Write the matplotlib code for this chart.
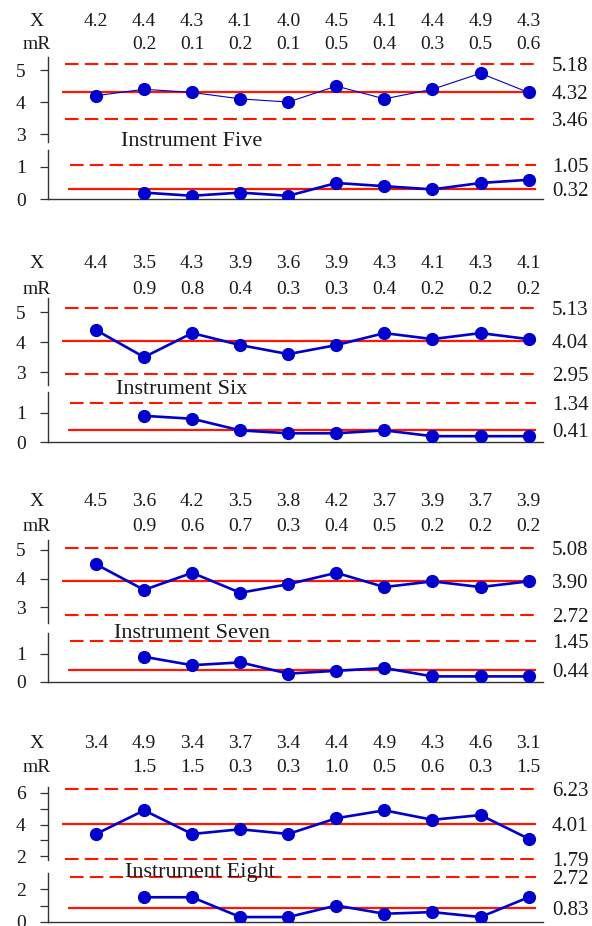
import matplotlib
matplotlib.use('Agg')
import matplotlib.pyplot as plt
from matplotlib.transforms import blended_transform_factory as blend

plt.rcParams['font.family'] = ['Liberation Serif', 'DejaVu Serif']

# data
names = ['Instrument Five', 'Instrument Six', 'Instrument Seven', 'Instrument Eight']
x_vals = [
    [4.2, 4.4, 4.3, 4.1, 4.0, 4.5, 4.1, 4.4, 4.9, 4.3],
    [4.4, 3.5, 4.3, 3.9, 3.6, 3.9, 4.3, 4.1, 4.3, 4.1],
    [4.5, 3.6, 4.2, 3.5, 3.8, 4.2, 3.7, 3.9, 3.7, 3.9],
    [3.4, 4.9, 3.4, 3.7, 3.4, 4.4, 4.9, 4.3, 4.6, 3.1],
]
mr_vals = [
    [0.2, 0.1, 0.2, 0.1, 0.5, 0.4, 0.3, 0.5, 0.6],
    [0.9, 0.8, 0.4, 0.3, 0.3, 0.4, 0.2, 0.2, 0.2],
    [0.9, 0.6, 0.7, 0.3, 0.4, 0.5, 0.2, 0.2, 0.2],
    [1.5, 1.5, 0.3, 0.3, 1.0, 0.5, 0.6, 0.3, 1.5],
]
x_limits = [(5.18, 4.32, 3.46), (5.13, 4.04, 2.95), (5.08, 3.90, 2.72), (6.23, 4.01, 1.79)]
mr_limits = [(1.05, 0.32), (1.34, 0.41), (1.45, 0.44), (2.72, 0.83)]
x_ticks = [[3, 4, 5], [3, 4, 5], [3, 4, 5], [2, 3, 4, 5, 6]]
x_ticklabels = [['3', '4', '5'], ['3', '4', '5'], ['3', '4', '5'], ['2', '', '4', '', '6']]
mr_ticks = [[0, 1], [0, 1], [0, 1], [0, 1, 2]]
mr_ticklabels = [['0', '1'], ['0', '1'], ['0', '1'], ['0', '', '2']]

# layout (pixels)
W, H = 592, 926
layout = [
    dict(xt=57, xb=142, xyl=(2.75, 5.41), rt=150, rb=199, ryl=(0, 1.53), row1=19.5, row2=42.5, tx=192, ty=139),
    dict(xt=298, xb=385, xyl=(2.57, 5.47), rt=392, rb=442, ryl=(0, 1.72), row1=262, row2=287.5, tx=182, ty=387),
    dict(xt=540, xb=623, xyl=(2.44, 5.35), rt=633, rb=682, ryl=(0, 1.75), row1=499, row2=524.5, tx=192, ty=631),
    dict(xt=787, xb=860, xyl=(1.75, 6.38), rt=873, rb=922, ryl=(0, 2.97), row1=741, row2=766, tx=200, ty=870),
]
RED = '#ff1500'
BLUE = '#0000cc'
TXT = '#1a1a1a'
DASH = (0, (6.5, 3))
left_px, width_px = 48, 495

fig = plt.figure(figsize=(W / 100, H / 100), dpi=100)


def make_ax(top, bot):
    return fig.add_axes([left_px / W, 1 - bot / H, width_px / W, (bot - top) / H])


def style_ax(ax, ticks, labels, ylim, bottom):
    ax.set_xlim(0, 10.3)
    ax.set_ylim(*ylim)
    ax.set_xticks([])
    ax.set_yticks(ticks)
    ax.set_yticklabels(labels)
    ax.tick_params(axis='y', length=6, width=0.9, pad=10, labelsize=14,
                   color='#333333', labelcolor=TXT)
    for s in ['top', 'right']:
        ax.spines[s].set_visible(False)
    ax.spines['bottom'].set_visible(bottom)
    for s in ['left', 'bottom']:
        ax.spines[s].set_linewidth(1.0)
        ax.spines[s].set_color('#333333')
    ax.patch.set_alpha(0)


for p in range(4):
    L = layout[p]
    idx = list(range(1, 11))
    ax_x = make_ax(L['xt'], L['xb'])
    ax_r = make_ax(L['rt'], L['rb'])
    style_ax(ax_x, x_ticks[p], x_ticklabels[p], L['xyl'], False)
    style_ax(ax_r, mr_ticks[p], mr_ticklabels[p], L['ryl'], True)

    # control limits
    ucl, cl, lcl = x_limits[p]
    ax_x.plot([0.3, 10.15], [cl, cl], color=RED, lw=1.6, solid_capstyle='butt')
    ax_x.plot([0.35, 10.15], [ucl, ucl], color=RED, lw=1.5, linestyle=DASH)
    ax_x.plot([0.35, 10.15], [lcl, lcl], color=RED, lw=1.5, linestyle=DASH)
    rucl, rcl = mr_limits[p]
    ax_r.plot([0.42, 10.15], [rcl, rcl], color=RED, lw=1.6, solid_capstyle='butt')
    ax_r.plot([0.45, 10.15], [rucl, rucl], color=RED, lw=1.5, linestyle=DASH)

    xlw = 0.8 if p == 0 else 1.9
    ax_x.plot(idx, x_vals[p], color=BLUE, lw=xlw, marker='o', ms=8.5, zorder=3)
    ax_r.plot(idx[1:], mr_vals[p], color=BLUE, lw=1.9, marker='o', ms=8.5, zorder=3)

    # right-hand limit labels
    for ax, vals in [(ax_x, x_limits[p]), (ax_r, mr_limits[p])]:
        tr = blend(fig.transFigure, ax.transData)
        for v in vals:
            ax.text(552 / W, v, f'{v:.2f}', transform=tr, ha='left', va='center_baseline',
                    fontsize=15, color=TXT, clip_on=False)

    # value rows above the chart
    tr = blend(ax_x.transData, fig.transFigure)
    fig.text(37 / W, 1 - L['row1'] / H, 'X', ha='center', va='center_baseline', fontsize=14, color=TXT)
    fig.text(37 / W, 1 - L['row2'] / H, 'mR', ha='center', va='center_baseline', fontsize=14, color=TXT)
    for i, v in zip(idx, x_vals[p]):
        ax_x.text(i, 1 - L['row1'] / H, f'{v:.1f}', transform=tr, ha='center', va='center_baseline',
                  fontsize=14, color=TXT, clip_on=False)
    for i, v in zip(idx[1:], mr_vals[p]):
        ax_x.text(i, 1 - L['row2'] / H, f'{v:.1f}', transform=tr, ha='center', va='center_baseline',
                  fontsize=14, color=TXT, clip_on=False)

    fig.text(L['tx'] / W, 1 - L['ty'] / H, names[p], ha='center', va='center_baseline',
             fontsize=16, color=TXT)

fig.savefig('out.png', dpi=100)
